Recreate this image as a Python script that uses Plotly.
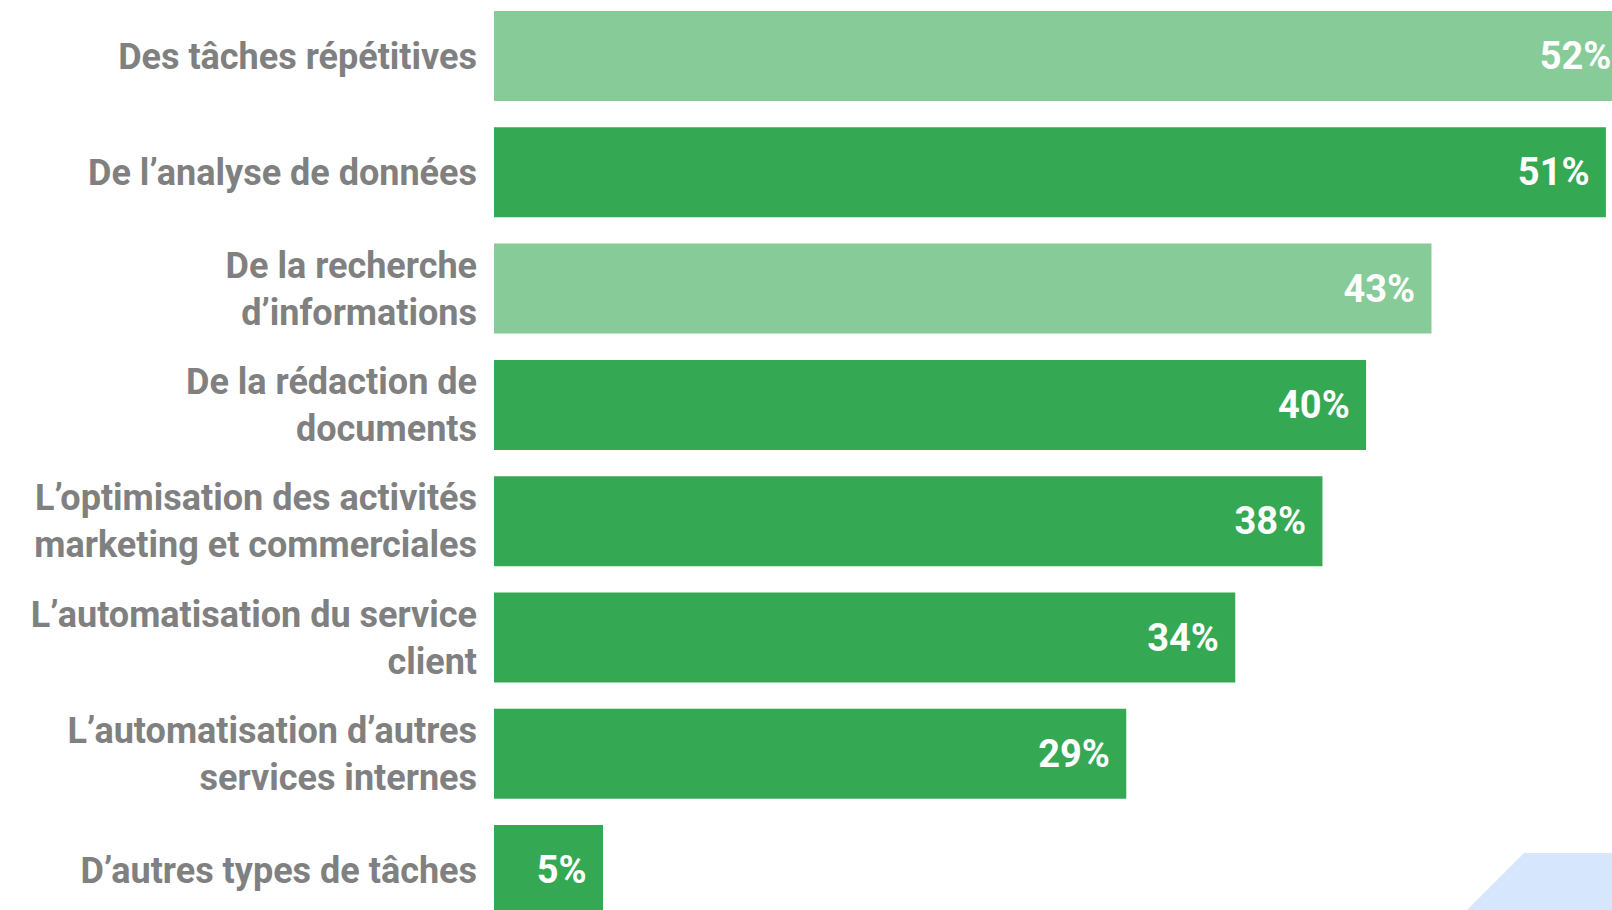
import plotly.graph_objects as go

categories = [
    "Des tâches répétitives",
    "De l’analyse de données",
    "De la recherche<br>d’informations",
    "De la rédaction de<br>documents",
    "L’optimisation des activités<br>marketing et commerciales",
    "L’automatisation du service<br>client",
    "L’automatisation d’autres<br>services internes",
    "D’autres types de tâches",
]
values = [52, 51, 43, 40, 38, 34, 29, 5]
highlight = [True, False, True, False, False, False, False, False]

LIGHT = "#86CB98"
DARK = "#34A853"
colors = [LIGHT if h else DARK for h in highlight]
labels = [f"{v}%\u00a0\u200a" for v in values]

fig = go.Figure(
    go.Bar(
        x=values,
        y=categories,
        orientation="h",
        marker=dict(color=colors, line=dict(width=0)),
        text=labels,
        textposition="inside",
        insidetextanchor="end",
        textfont=dict(family="Roboto", size=38, color="white", weight=700),
        hoverinfo="skip",
        width=0.774,
    )
)

fig.update_layout(
    width=1612,
    height=910,
    margin=dict(l=494, r=0, t=0, b=0),
    paper_bgcolor="white",
    plot_bgcolor="white",
    showlegend=False,
    xaxis=dict(range=[0, 51.28], visible=False, fixedrange=True),
    yaxis=dict(
        type="category",
        categoryorder="array",
        categoryarray=categories,
        range=[7.343, -0.4815],
        showgrid=False,
        zeroline=False,
        showline=False,
        ticks="",
        ticklabelstandoff=16,
        tickfont=dict(family="Roboto", size=36, color="#808080", weight=700),
    ),
    shapes=[
        dict(
            type="path",
            xref="paper",
            yref="paper",
            path="M {x0} 0 L {x1} {yt} L 1.02 {yt} L 1.02 0 Z".format(
                x0=(1467 - 494) / (1612 - 494),
                x1=(1524 - 494) / (1612 - 494),
                yt=(910 - 853) / 910,
            ),
            fillcolor="#D6E6FC",
            line=dict(width=0),
            layer="below",
        )
    ],
)

fig.write_html("out.html")
